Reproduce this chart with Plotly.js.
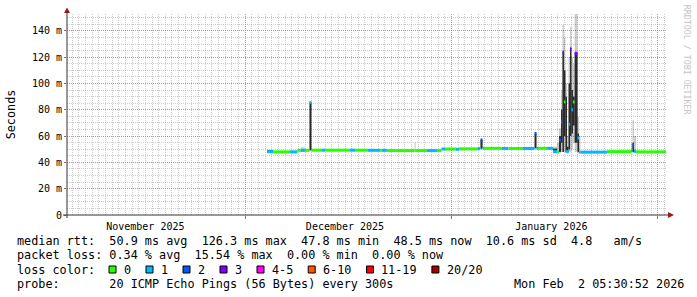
<!DOCTYPE html>
<html><head><meta charset="utf-8">
<script src="https://cdn.plot.ly/plotly-3.0.1.min.js"></script>
<style>html,body{margin:0;padding:0;background:#fff}#chart{width:697px;height:297px}</style>
</head><body><div id="chart"></div>
<script>
// ---------------- data ----------------
// step segments: each lasts from its start until the next start (last one until segEnd)
const segStart = [
 '2025-12-04 08:00','2025-12-05 04:00','2025-12-07 17:30','2025-12-08 20:30','2025-12-09 09:00',
 '2025-12-09 23:30','2025-12-10 16:00','2025-12-10 23:00','2025-12-12 13:00','2025-12-13 01:00',
 '2025-12-16 18:00','2025-12-17 12:00','2025-12-19 11:00','2025-12-21 06:00','2025-12-21 13:00',
 '2025-12-22 07:00','2025-12-26 11:00','2025-12-26 15:00','2025-12-28 07:30','2025-12-29 19:30',
 '2025-12-30 12:00','2025-12-31 00:30','2026-01-01 16:00','2026-01-02 03:00','2026-01-04 23:30',
 '2026-01-05 08:30','2026-01-05 16:00','2026-01-05 21:00','2026-01-08 13:00','2026-01-09 14:00',
 '2026-01-11 17:30','2026-01-13 11:30','2026-01-13 18:30','2026-01-14 00:00','2026-01-15 08:30',
 '2026-01-16 06:00','2026-01-16 20:30','2026-01-17 03:30','2026-01-17 11:00','2026-01-17 16:00',
 '2026-01-17 21:30','2026-01-18 03:00','2026-01-18 08:30','2026-01-18 14:00','2026-01-18 19:30',
 '2026-01-19 00:30','2026-01-19 06:00','2026-01-19 12:00','2026-01-19 22:30','2026-01-20 04:00',
 '2026-01-20 09:00','2026-01-24 08:30','2026-01-27 23:30','2026-01-28 04:30','2026-01-28 10:00',
 '2026-01-28 17:30'
];
const segEnd = '2026-02-02 05:30';
// median rtt in ms
const medianMs = [
 48.2,48.0,48.0,49.2,49.2, 49.2,85.5,49.3,49.3,49.3, 49.3,49.3,49.2,49.2,49.2,
 49.0,49.0,49.0,49.0,49.0, 50.2,50.2,50.0,50.3,50.5, 57.0,50.7,50.7,50.6,50.6,
 50.6,62.0,50.7,50.7,50.7, 48.2,48.0,57.0,71.0,123.8, 86.0,48.5,48.2,69.0,126.5,
 80.0,86.0,123.0,58.6,47.8, 47.8,48.2,49.0,52.7,48.5, 48.0
];
// packet-loss class index (0:'0', 1:'1', 2:'2', 3:'3', ...)
const lossIdx = [
 1,0,1,0,1, 0,1,0,1,0, 1,0,1,0,1,
 0,0,0,1,0, 1,0,1,0,1, 2,1,0,1,0,
 1,2,1,0,1, 1,0,2,2,3, 0,1,1,1,3,
 1,0,3,1,1, 1,0,1,2,1, 0
];
// dense smoke (ms)
const darkLo = [
 47.2,null,null,null,null, null,49.3,null,null,null, null,null,null,null,null,
 null,null,null,null,null, null,null,null,null,null, 50.5,null,null,null,null,
 null,50.7,null,null,null, 47.5,null,48,55,48, 60,48,47.5,50,60,
 62,68,55,48,null, null,null,null,48,null, null
];
const darkHi = [
 49.5,null,null,null,null, null,85.5,null,null,null, null,null,null,null,null,
 null,null,null,null,null, null,null,null,null,null, 57,null,null,null,null,
 null,62,null,null,null, 50.5,null,60,80,124, 110,90,52,100,127,
 95,90,123,62,null, null,null,null,55,null, null
];
// light smoke (ms)
const lightLo = [
 null,null,null,null,48, null,48.5,null,null,null, null,null,null,null,null,
 null,48.5,null,null,null, null,null,null,null,null, 50,null,null,null,null,
 null,50.5,null,null,null, 47,47,47,48,48, 48,47,47,48,48,
 50,55,48,47,47, null,null,47.5,47,47.5, null
];
const lightHi = [
 null,null,null,null,51.5, null,86,null,null,null, null,null,null,null,null,
 null,55,null,null,null, null,null,null,null,null, 58,null,null,null,null,
 null,63,null,null,null, 52,55,66,95,144.5, 135,100,60,120,143,
 120,115,153,75,60, null,null,55,72,60, null
];

const lossLabels = ['0','1','2','3','4-5','6-10','11-19','20/20'];
const lossColors = ['#26ff00','#00b8ff','#0059ff','#7e00ff','#ff00ff','#ff5500','#ff0000','#a10000'];

const yTickVals = [0,20,40,60,80,100,120,140];
const yTickText = ['0','20 m','40 m','60 m','80 m','100 m','120 m','140 m'];
const monthStarts = ['2025-12-01','2026-01-01','2026-02-01'];
const monthLabelDates = ['2025-11-16','2025-12-16','2026-01-16'];
const monthLabelText = ['November 2025','December 2025','January 2026'];
const xStart = '2025-11-04 05:30', xEnd = '2026-02-02 05:30';
const yTop = 152.9;

const rttStats = ['50.9','126.3','47.8','48.5','10.6','4.8']; // avg max min now sd am/s
const lossStats = ['0.34','15.54','0.00','0.00'];           // avg max min now
const probeText = '20 ICMP Echo Pings (56 Bytes) every 300s';
const stampText = 'Mon Feb  2 05:30:52 2026';

// ---------------- drawing ----------------
const toMs = s => Date.parse(s.replace(' ', 'T') + ':00Z');
const edges = segStart.map(toMs).concat([toMs(segEnd)]);
const mid = segStart.map((_, i) => (edges[i] + edges[i + 1]) / 2);
const wid = segStart.map((_, i) => edges[i + 1] - edges[i]);
const span = (lo, hi) => lo.map((v, i) => (v == null || hi[i] == null) ? null : hi[i] - v);
const MED_HALF = 1.15;

const traces = [
 {type:'bar', x:mid, width:wid, base:lightLo, y:span(lightLo, lightHi),
  marker:{color:'rgba(0,0,0,0.2)', line:{width:0}}, hoverinfo:'skip', xaxis:'x', yaxis:'y'},
 {type:'bar', x:mid, width:wid, base:darkLo, y:span(darkLo, darkHi),
  marker:{color:'rgba(20,20,20,0.88)', line:{width:0}}, hoverinfo:'skip', xaxis:'x', yaxis:'y'},
 {type:'bar', x:mid, width:wid, base:medianMs.map(v => v - MED_HALF), y:medianMs.map(() => 2 * MED_HALF),
  marker:{color:lossIdx.map(k => lossColors[k]), line:{width:0}}, hoverinfo:'skip', xaxis:'x2', yaxis:'y'}
];

const L = 67, T = 14, W = 599, H = 201;
const px2x = px => (px - L) / W;
const py2y = py => (T + H - py) / H;
const FONT = 'DejaVu Sans Mono';
const MAJOR = 'rgba(224,80,80,0.55)', MINOR = 'rgba(170,170,170,0.6)';
const nb = s => s.replace(/ /g, '\u00a0');
function txt(s, px, py, extra) {
  return Object.assign({xref:'paper', yref:'paper', x:px2x(px), y:py2y(py), xanchor:'left', yanchor:'middle',
    text:nb(s), showarrow:false, borderpad:0, font:{family:FONT, size:11.8, color:'#000'}}, extra || {});
}

const line1 = 'median rtt:  ' + rttStats[0] + ' ms avg  ' + rttStats[1] + ' ms max  ' + rttStats[2] + ' ms min  ' +
  rttStats[3] + ' ms now  ' + rttStats[4] + ' ms sd  ' + rttStats[5] + '   am/s';
const line2 = 'packet loss: ' + lossStats[0] + ' % avg  ' + lossStats[1] + ' % max  ' + lossStats[2] + ' % min  ' +
  lossStats[3] + ' % now';
const line4 = 'probe:       ' + probeText;

const annotations = [
  txt(line1, 16, 241),
  txt(line2, 16, 255.3),
  txt('loss color:', 16, 269.6),
  txt(line4, 16, 284),
  txt(stampText, 512.5, 284),
  {xref:'paper', yref:'paper', x:px2x(687.3), y:py2y(60), xanchor:'center', yanchor:'middle', textangle:90,
   text:nb('RRDTOOL / TOBI OETIKER'), showarrow:false, font:{family:FONT, size:8.3, color:'#c4c4c4'}}
];
const shapes = [];
let sx = 108.5;
lossLabels.forEach((lab, k) => {
  shapes.push({type:'rect', xref:'paper', yref:'paper', x0:px2x(sx + 0.5), x1:px2x(sx + 7.5),
    y0:py2y(273), y1:py2y(266), fillcolor:lossColors[k], line:{color:'#000', width:1}});
  annotations.push(txt(lab, sx + 14.4, 269.6));
  sx += 15.7 + (lab.length + 2) * 7.1;
});
// axis arrows
const ARROW = '#9b1b1b';
const P = (a, b) => px2x(a) + ',' + py2y(b);
shapes.push({type:'path', xref:'paper', yref:'paper', path:'M' + P(67, 7.5) + ' L' + P(64, 13) + ' L' + P(70, 13) + ' Z',
  fillcolor:ARROW, line:{color:ARROW, width:0}});
shapes.push({type:'path', xref:'paper', yref:'paper', path:'M' + P(674, 215) + ' L' + P(668, 212) + ' L' + P(668, 218) + ' Z',
  fillcolor:ARROW, line:{color:ARROW, width:0}});
shapes.push({type:'line', xref:'paper', yref:'paper', x0:px2x(63), x1:px2x(668), y0:py2y(215), y1:py2y(215), line:{color:'#333', width:1}});
shapes.push({type:'line', xref:'paper', yref:'paper', x0:px2x(67), x1:px2x(67), y0:py2y(218), y1:py2y(12), line:{color:'#333', width:1}});

const layout = {
  width:697, height:297, margin:{l:L, r:697 - L - W, t:T, b:297 - T - H, pad:0},
  paper_bgcolor:'#fff', plot_bgcolor:'#fff', showlegend:false, barmode:'overlay',
  font:{family:FONT, size:10, color:'#000'},
  xaxis:{type:'date', range:[xStart, xEnd], tickmode:'array', tickvals:monthStarts, ticktext:monthStarts.map(() => ''),
    showgrid:true, gridcolor:MAJOR, griddash:'1px,1px', gridwidth:1, ticks:'outside', ticklen:3, tickcolor:'#d05050',
    showline:false, zeroline:false, fixedrange:true,
    minor:{tickmode:'linear', tick0:'2025-11-01', dtick:86400000, showgrid:true, gridcolor:MINOR, griddash:'1px,1px', ticks:''}},
  xaxis2:{type:'date', overlaying:'x', anchor:'y', side:'bottom', range:[xStart, xEnd], tickmode:'array',
    tickvals:monthLabelDates, ticktext:monthLabelText, showgrid:false, ticks:'', showline:false, zeroline:false,
    ticklabelstandoff:4, tickfont:{family:FONT, size:10, color:'#000'}, fixedrange:true},
  yaxis:{range:[0, yTop], tickmode:'array', tickvals:yTickVals, ticktext:yTickText, showgrid:true, gridcolor:MAJOR,
    griddash:'1px,1px', ticks:'outside', ticklen:2, tickcolor:'#d05050', showline:false, zeroline:false, fixedrange:true,
    tickfont:{family:FONT, size:10, color:'#000'},
    minor:{tickmode:'linear', tick0:0, dtick:5, showgrid:true, gridcolor:MINOR, griddash:'1px,1px', ticks:''},
    title:{text:'Seconds', font:{family:FONT, size:11.8, color:'#000'}, standoff:13}},
  annotations:annotations, shapes:shapes
};
Plotly.newPlot('chart', traces, layout, {displayModeBar:false, staticPlot:true});
</script>
</body></html>
